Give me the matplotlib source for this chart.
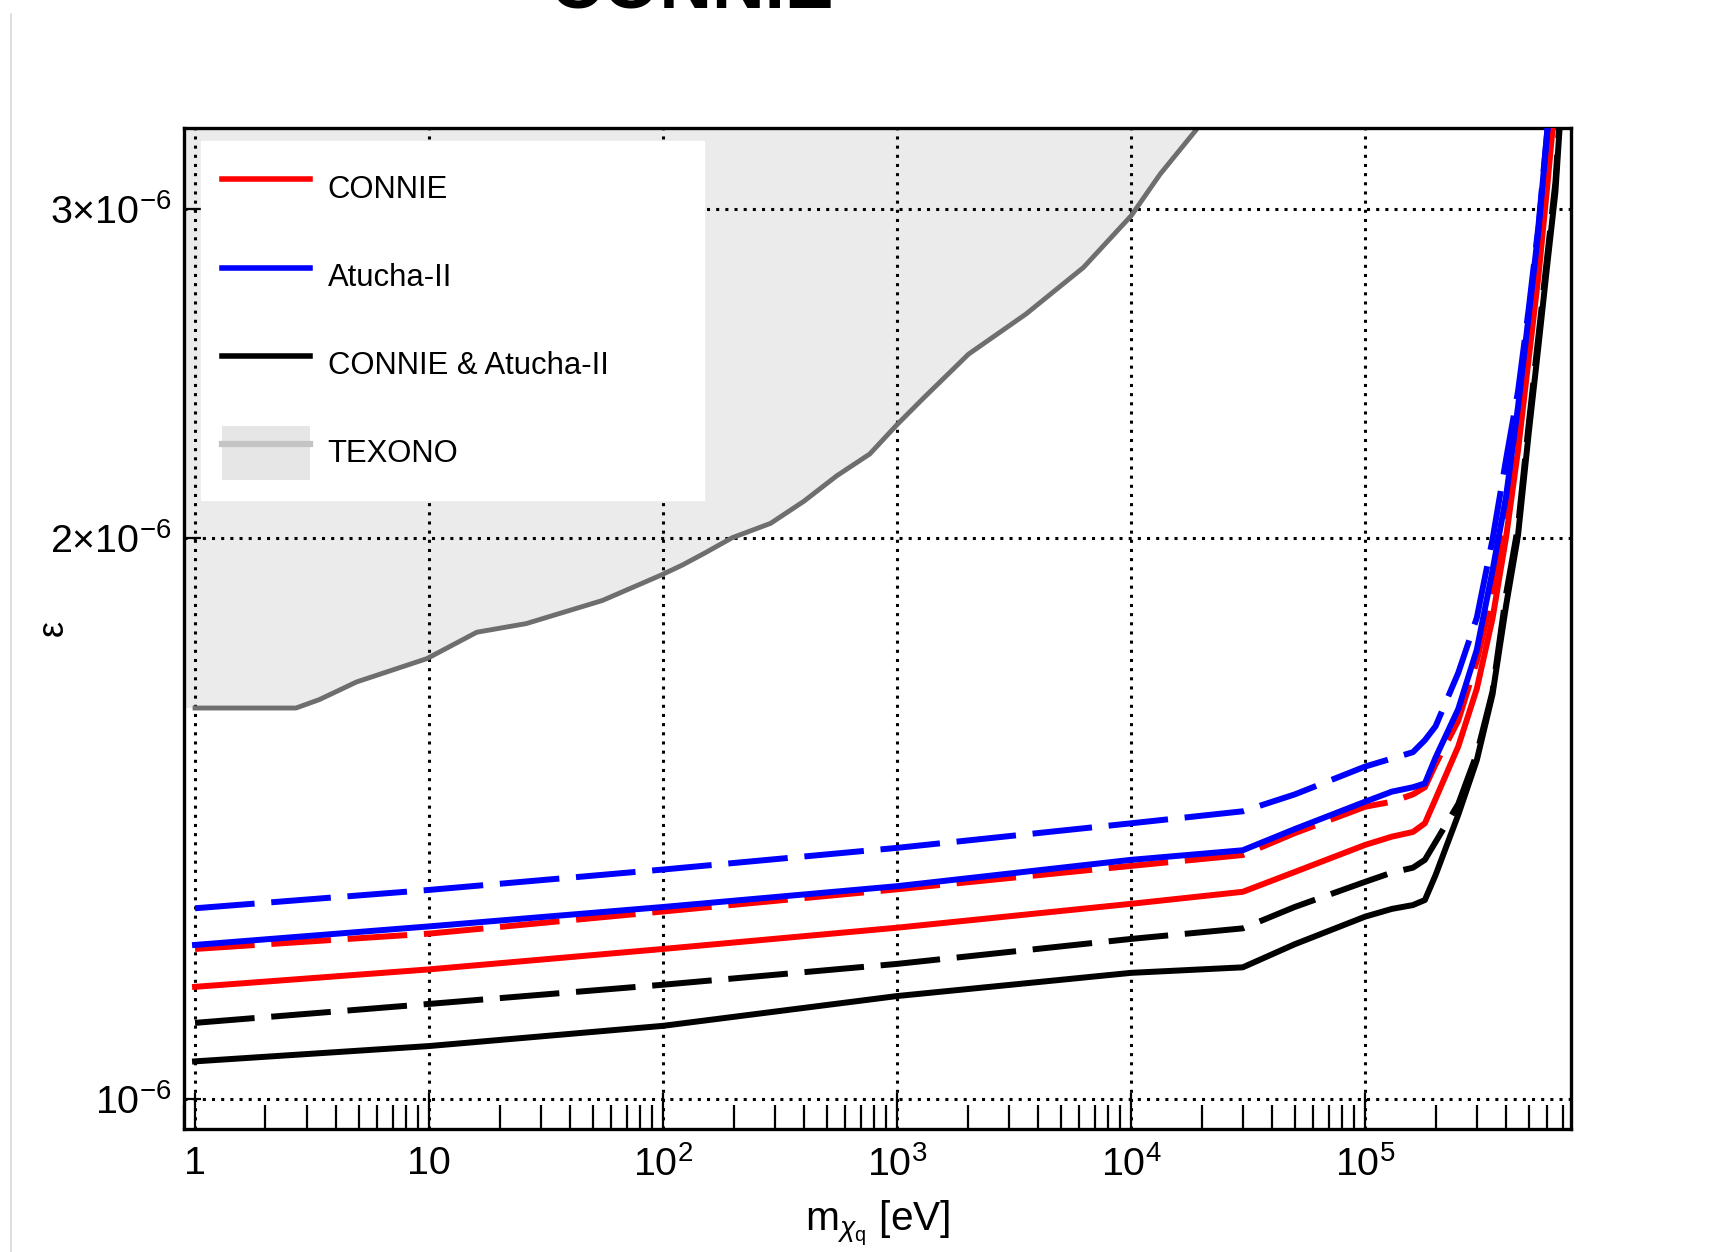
import matplotlib
matplotlib.use('Agg')
import matplotlib.pyplot as plt
from matplotlib import font_manager
from matplotlib.lines import Line2D
from matplotlib.patches import Patch
from matplotlib.ticker import LogLocator, NullFormatter, NullLocator

# dark photon mass (eV) and epsilon limits (in units of 1e-6)
mass = [1, 10, 100, 1e3, 1e4, 3e4, 5e4, 1e5, 1.3e5, 1.6e5, 1.8e5, 2e5, 2.5e5, 3e5,
        3.5e5, 4e5, 4.5e5, 5e5, 5.5e5, 6e5, 6.5e5, 7e5]

connie_obs = [1.149, 1.174, 1.204, 1.236, 1.273, 1.292, 1.324, 1.369, 1.383, 1.391, 1.406,
              1.449, 1.546, 1.660, 1.810, 2.001, 2.228, 2.496, 2.763, 3.087, 3.442, 3.8]
connie_exp = [1.204, 1.227, 1.261, 1.296, 1.334, 1.352, 1.389, 1.435, 1.444, 1.457, 1.470,
              1.512, 1.596, 1.718, 1.865, 2.092, 2.332, 2.599, 2.870, 3.143, 3.48, 3.85]
atucha_obs = [1.210, 1.238, 1.268, 1.301, 1.344, 1.360, 1.396, 1.444, 1.462, 1.470, 1.477,
              1.525, 1.619, 1.742, 1.920, 2.104, 2.351, 2.631, 2.922, 3.301, 3.68, 4.0]
atucha_exp = [1.266, 1.295, 1.328, 1.364, 1.406, 1.427, 1.457, 1.508, 1.523, 1.535, 1.558,
              1.585, 1.693, 1.812, 1.995, 2.203, 2.396, 2.653, 2.937, 3.305, 3.70, 4.0]
comb_obs = [1.048, 1.068, 1.095, 1.136, 1.169, 1.177, 1.211, 1.253, 1.265, 1.271, 1.279,
            1.319, 1.421, 1.520, 1.648, 1.839, 2.006, 2.276, 2.533, 2.801, 3.064, 3.527]
comb_exp = [1.099, 1.125, 1.152, 1.182, 1.219, 1.235, 1.268, 1.308, 1.323, 1.331, 1.344,
            1.374, 1.440, 1.532, 1.654, 1.865, 2.028, 2.301, 2.564, 2.831, 3.101, 3.57]

texono_mass = [1, 2.7, 3.4, 4.9, 9.8, 16, 26, 55, 98, 121, 151, 197, 288, 399, 552, 764,
               1000, 1290, 2020, 3550, 6250, 10000, 13300, 19000, 20500]
texono_eps = [1.621, 1.621, 1.638, 1.674, 1.723, 1.780, 1.799, 1.851, 1.910, 1.934, 1.963,
              2.000, 2.036, 2.092, 2.159, 2.218, 2.300, 2.375, 2.509, 2.636, 2.792, 2.976,
              3.133, 3.31, 3.42]

labels = ['CONNIE', 'Atucha-II', 'CONNIE & Atucha-II', 'TEXONO']
x_ticks = [1, 10, 100, 1e3, 1e4, 1e5]
x_ticklabels = ['1', '10', '10$^{2}$', '10$^{3}$', '10$^{4}$', '10$^{5}$']
y_ticks = [1e-6, 2e-6, 3e-6]
y_ticklabels = ['10$^{-6}$', '2$\\times$10$^{-6}$', '3$\\times$10$^{-6}$']


def pick_font():
    try:
        font_manager.findfont('Liberation Sans Narrow', fallback_to_default=False)
        return 'Liberation Sans Narrow', 1.0
    except ValueError:
        return 'Liberation Sans', 0.86


font, sf = pick_font()
plt.rcParams['font.family'] = [font, 'Liberation Sans', 'DejaVu Sans']
plt.rcParams['mathtext.fontset'] = 'custom'
plt.rcParams['mathtext.rm'] = font
plt.rcParams['mathtext.it'] = font + ':italic'
plt.rcParams['mathtext.bf'] = font + ':bold'


def scaled(vals):
    return [v * 1e-6 for v in vals]


fig = plt.figure(figsize=(17.26, 12.52), dpi=100)
ax = fig.add_axes([0.1066, 0.0982, 0.8036, 0.7996])
ax.set_xscale('log')
ax.set_yscale('log')
ax.set_xlim(0.897, 7.58e5)
ax.set_ylim(0.964e-6, 3.317e-6)

# TEXONO excluded region
x0 = ax.get_xlim()[0]
ax.fill_between([x0] + texono_mass, scaled([texono_eps[0]] + texono_eps), 1e-5,
                facecolor='#ebebeb', edgecolor='none', zorder=1)
ax.plot(texono_mass, scaled(texono_eps), color='#6e6e6e', lw=3.5, zorder=2)

dash = (0, (10, 2.8))
lw = 4.3
ax.plot(mass, scaled(connie_exp), color='red', lw=lw, linestyle=dash, zorder=3)
ax.plot(mass, scaled(connie_obs), color='red', lw=lw, zorder=3)
ax.plot(mass, scaled(atucha_exp), color='blue', lw=lw, linestyle=dash, zorder=3)
ax.plot(mass, scaled(atucha_obs), color='blue', lw=lw, zorder=3)
ax.plot(mass, scaled(comb_exp), color='black', lw=lw, linestyle=dash, zorder=3)
ax.plot(mass, scaled(comb_obs), color='black', lw=lw, zorder=3)

ax.set_xticks(x_ticks, labels=x_ticklabels)
ax.xaxis.set_minor_locator(LogLocator(base=10, subs=range(2, 10), numticks=20))
ax.xaxis.set_minor_formatter(NullFormatter())
ax.set_yticks(y_ticks, labels=y_ticklabels)
ax.yaxis.set_minor_locator(NullLocator())

ax.tick_params(axis='x', which='major', direction='in', length=26, width=1.6,
               pad=12, labelsize=33 * sf)
ax.tick_params(axis='x', which='minor', direction='in', length=17, width=1.6)
ax.tick_params(axis='y', which='major', direction='in', length=12, width=1.6,
               pad=9, labelsize=33 * sf)
ax.grid(True, which='major', color='black', linestyle=(0, (1, 2.0)), linewidth=2.2)
ax.set_axisbelow('line')
for s in ax.spines.values():
    s.set_linewidth(2.4)

ax.set_xlabel(r'$\mathrm{m}_{\chi_{\mathrm{q}}}$ [eV]', fontsize=34 * sf)
ax.xaxis.label.set_va('baseline')
ax.xaxis.set_label_coords(0.5, -0.102)
ax.set_ylabel('ε', fontsize=30 * sf)
ax.yaxis.label.set_va('center')
ax.yaxis.set_label_coords(-0.0946, 0.501)

handles = [Line2D([], [], color='red', lw=4.0),
           Line2D([], [], color='blue', lw=4.0),
           Line2D([], [], color='black', lw=4.0),
           (Patch(facecolor='#e6e6e6', edgecolor='none'),
            Line2D([], [], color='#c4c4c4', lw=4.5))]
leg = ax.legend(handles, labels, loc='upper left', mode='expand',
                bbox_to_anchor=(0.0125, 0.625, 0.3625, 0.362), borderaxespad=0,
                frameon=True, fancybox=False, edgecolor='white', facecolor='white',
                framealpha=1, fontsize=26 * sf, handlelength=2.84, handleheight=2.3,
                handletextpad=0.58, labelspacing=1.10, borderpad=0.65)
leg.set_zorder(5)

fig.text(0.401, 0.9944, 'CONNIE', ha='center', va='baseline',
         fontsize=61 * sf, fontweight='bold')
fig.add_artist(Line2D([0.0064, 0.0064], [0.0, 0.989], color='#d8d8d8', lw=1.2))

fig.savefig('out.png', dpi=100)
